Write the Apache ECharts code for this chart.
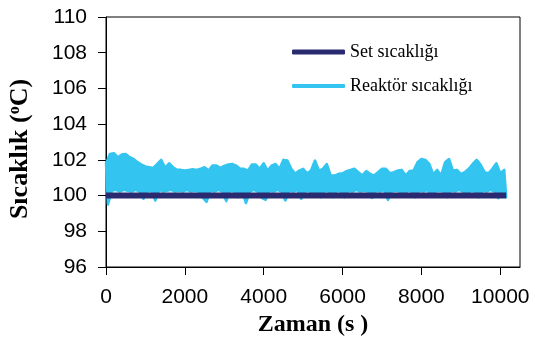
<!DOCTYPE html>
<html>
<head>
<meta charset="utf-8">
<script src="https://cdn.jsdelivr.net/npm/echarts@6/dist/echarts.min.js"></script>
<style>
  html, body { margin: 0; padding: 0; background: #fff; }
  #chart { width: 535px; height: 351px; }
</style>
</head>
<body>
<div id="chart"></div>
<script>
// set point (constant) : start / end of the run, s
const setTimes = [0, 10150]
const setValues = [100, 100]

// reactor temperature, every 100 s (upper swings, t = 0, 100, 200 ...)
const reactorHigh = [
  101.8, 102.33, 102.37, 102.15, 102.3, 102.33, 102.15, 102.05, 101.87, 101.74,
  101.63, 101.59, 101.55, 101.77, 102.0, 101.55, 101.81, 101.59, 101.44, 101.44,
  101.4, 101.44, 101.48, 101.44, 101.5, 101.59, 101.4, 101.68, 101.68, 101.55,
  101.66, 101.74, 101.77, 101.68, 101.5, 101.5, 101.4, 101.74, 101.74, 101.5,
  101.81, 101.4, 101.68, 101.77, 101.5, 102.0, 101.96, 101.5, 101.22, 101.4,
  101.5, 101.25, 101.4, 101.96, 101.4, 101.5, 101.77, 101.12, 101.12, 101.22,
  101.25, 101.37, 101.44, 101.5, 101.31, 101.12, 101.37, 101.22, 101.12, 101.31,
  101.5, 101.5, 101.25, 101.31, 101.4, 101.44, 101.12, 101.37, 101.4, 101.87,
  102.05, 102.0, 101.77, 101.18, 101.44, 101.12, 101.87, 102.05, 101.4, 101.44,
  101.22, 101.31, 101.5, 101.77, 102.0, 101.74, 101.31, 101.25, 101.5, 101.81,
  101.25, 101.44
]
// lower swings, t = 50, 150, 250 ...
const reactorLow = [
  99.5, 100.27, 100.32, 100.22, 100.32, 100.27, 100.22, 100.32, 100.22, 99.82,
  100.22, 100.27, 99.72, 100.32, 100.22, 100.27, 100.32, 100.22, 100.27, 100.22,
  100.32, 100.22, 100.27, 100.22, 99.9, 99.65, 100.27, 100.22, 100.32, 100.22,
  99.69, 100.27, 100.22, 99.91, 100.27, 99.58, 100.22, 100.32, 100.22, 99.87,
  99.76, 100.27, 100.22, 100.32, 100.22, 99.72, 100.27, 100.22, 100.32, 99.82,
  100.22, 100.27, 100.0, 100.22, 99.91, 100.27, 100.22, 99.91, 100.27, 100.22,
  99.91, 100.27, 100.22, 100.32, 100.22, 100.27, 100.22, 99.87, 100.27, 100.22,
  100.32, 99.76, 100.22, 100.27, 100.22, 99.95, 100.27, 100.22, 99.91, 100.27,
  100.22, 100.32, 99.95, 100.22, 100.27, 100.22, 99.91, 100.27, 100.22, 100.32,
  100.22, 99.95, 100.27, 100.22, 99.91, 100.27, 100.22, 100.32, 100.22, 99.86,
  100.27, 99.91
]
const stepSec = 100

const xTicks = [0, 2000, 4000, 6000, 8000, 10000]

let setData = setTimes.map((t, i) => [t, setValues[i]])

// the reactor trace is so dense it prints as a band: upper swings forward, lower swings back
let reactorOutline = []
for (let i = 0; i < reactorHigh.length; i++) {
  reactorOutline.push([i * stepSec, reactorHigh[i]])
}
for (let i = reactorLow.length - 1; i >= 0; i--) {
  reactorOutline.push([i * stepSec + stepSec / 2, reactorLow[i]])
}

const cyan = '#33c4ef'
const navy = '#2a2a70'
const axisFont = {fontFamily: 'Liberation Sans, Arial, sans-serif', fontSize: 21, color: '#000'}
const titleFont = 'Liberation Serif, Times New Roman, serif'

let chart = echarts.init(document.getElementById('chart'))
let option = {
  animation: false,
  backgroundColor: '#fff',
  grid: {
    left: 106,
    right: 15,
    top: 17,
    bottom: 84,
    outerBoundsMode: 'none',
    containLabel: false,
    show: true,
    borderColor: '#000',
    borderWidth: 1
  },
  legend: [
    {
      data: [{name: 'Set sıcaklığı', icon: 'roundRect', itemStyle: {color: navy}}],
      left: 287,
      top: 38,
      itemWidth: 53,
      itemHeight: 5,
      textStyle: {fontFamily: titleFont, fontSize: 18, color: '#000'}
    },
    {
      data: [{name: 'Reaktör sıcaklığı', icon: 'roundRect', itemStyle: {color: cyan}}],
      left: 287,
      top: 72,
      itemWidth: 53,
      itemHeight: 4,
      textStyle: {fontFamily: titleFont, fontSize: 18, color: '#000'}
    }
  ],
  xAxis: {
    type: 'value',
    min: 0,
    max: 10500,
    interval: 2000,
    name: 'Zaman (s )',
    nameLocation: 'middle',
    nameGap: 45,
    nameTextStyle: {fontFamily: titleFont, fontSize: 24, fontWeight: 'bold', color: '#000'},
    axisLine: {lineStyle: {color: '#000', width: 1}},
    axisTick: {length: 8, lineStyle: {color: '#000'}},
    axisLabel: Object.assign({margin: 20, showMaxLabel: false,
      formatter: v => xTicks.includes(v) ? String(v) : ''}, axisFont),
    splitLine: {show: false}
  },
  yAxis: {
    type: 'value',
    min: 96,
    max: 110,
    interval: 2,
    name: '{t|Sıcaklık (}{sup|o}{e|C)}',
    nameLocation: 'middle',
    nameGap: 72,
    nameTextStyle: {
      rich: {
        t: {fontFamily: titleFont, fontSize: 26, fontWeight: 'bold', color: '#000'},
        e: {fontFamily: titleFont, fontSize: 26, fontWeight: 'bold', color: '#000', padding: [0, 14, 0, 0]},
        sup: {fontFamily: titleFont, fontSize: 16, fontWeight: 'bold', color: '#000', verticalAlign: 'top', padding: [0, 0, 11, 0]}
      }
    },
    axisLine: {show: true, lineStyle: {color: '#000', width: 1}},
    axisTick: {show: true, length: 8, lineStyle: {color: '#000'}},
    axisLabel: Object.assign({margin: 19}, axisFont),
    splitLine: {show: false}
  },
  series: [
    {
      name: 'Set sıcaklığı',
      type: 'line',
      data: setData,
      showSymbol: false,
      color: navy,
      lineStyle: {width: 6, color: navy}
    },
    {
      name: 'Reaktör sıcaklığı',
      type: 'custom',
      color: cyan,
      data: [0],
      renderItem: (params, api) => {
        let pts = reactorOutline.map(p => api.coord(p))
        return {
          type: 'polygon',
          shape: {points: pts},
          style: {fill: cyan, stroke: cyan, lineWidth: 2.5, lineJoin: 'round'}
        }
      }
    }
  ]
}
chart.setOption(option)
</script>
</body>
</html>
